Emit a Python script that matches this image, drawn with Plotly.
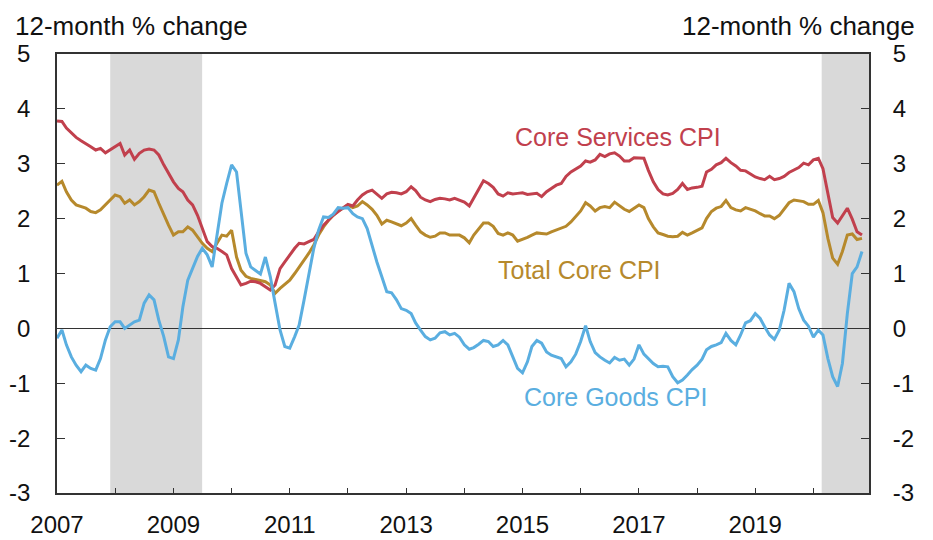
import pandas as pd
import plotly.graph_objects as go

# ---- data (12-month % change, monthly Jan 2007 - Nov 2020) ----
months = pd.date_range("2007-01-01", periods=167, freq="MS")

core_services = [
    3.78, 3.77, 3.65, 3.56, 3.48, 3.42, 3.37, 3.31, 3.25, 3.28,
    3.20, 3.26, 3.32, 3.37, 3.16, 3.25, 3.08, 3.19, 3.25, 3.27,
    3.25, 3.16, 2.98, 2.82, 2.67, 2.55, 2.49, 2.34, 2.25, 2.06,
    1.82, 1.58, 1.49, 1.46, 1.40, 1.34, 1.09, 0.94, 0.79, 0.82,
    0.86, 0.85, 0.82, 0.76, 0.70, 0.79, 1.09, 1.21, 1.34, 1.46,
    1.55, 1.54, 1.58, 1.62, 1.76, 1.88, 1.97, 2.06, 2.13, 2.19,
    2.26, 2.23, 2.34, 2.43, 2.49, 2.52, 2.45, 2.37, 2.45, 2.48,
    2.47, 2.45, 2.49, 2.58, 2.51, 2.39, 2.34, 2.31, 2.35, 2.37,
    2.36, 2.34, 2.37, 2.34, 2.30, 2.23, 2.37, 2.55, 2.69, 2.64,
    2.57, 2.45, 2.41, 2.47, 2.45, 2.46, 2.47, 2.44, 2.45, 2.46,
    2.40, 2.49, 2.55, 2.61, 2.64, 2.77, 2.85, 2.90, 2.96, 3.05,
    3.03, 3.07, 3.17, 3.13, 3.18, 3.20, 3.14, 3.05, 3.05, 3.11,
    3.11, 3.10, 2.88, 2.67, 2.53, 2.45, 2.43, 2.46, 2.53, 2.64,
    2.53, 2.56, 2.57, 2.59, 2.85, 2.90, 2.98, 3.02, 3.10, 3.02,
    2.96, 2.88, 2.87, 2.82, 2.76, 2.73, 2.71, 2.77, 2.71, 2.73,
    2.77, 2.84, 2.88, 2.93, 3.01, 2.98, 3.07, 3.10, 2.91, 2.46,
    2.02, 1.92, 2.06, 2.19, 1.99, 1.76, 1.70,
]

total_core = [
    2.61, 2.68, 2.49, 2.34, 2.25, 2.22, 2.19, 2.13, 2.11, 2.16,
    2.25, 2.35, 2.43, 2.40, 2.28, 2.34, 2.25, 2.31, 2.40, 2.52,
    2.49, 2.28, 2.06, 1.88, 1.70, 1.76, 1.76, 1.85, 1.79, 1.67,
    1.55, 1.46, 1.40, 1.55, 1.70, 1.68, 1.79, 1.30, 1.06, 0.95,
    0.91, 0.89, 0.87, 0.85, 0.79, 0.64, 0.73, 0.81, 0.88, 1.00,
    1.11, 1.24, 1.37, 1.52, 1.70, 1.85, 1.97, 2.06, 2.14, 2.19,
    2.25, 2.20, 2.23, 2.31, 2.25, 2.17, 2.06, 1.90, 1.97, 1.94,
    1.91, 1.87, 1.92, 2.00, 1.88, 1.76, 1.70, 1.66, 1.68, 1.74,
    1.74, 1.70, 1.70, 1.70, 1.65, 1.56, 1.70, 1.82, 1.92, 1.92,
    1.86, 1.73, 1.70, 1.74, 1.70, 1.59, 1.62, 1.66, 1.70, 1.74,
    1.73, 1.72, 1.76, 1.79, 1.82, 1.86, 1.94, 2.03, 2.14, 2.29,
    2.23, 2.14, 2.20, 2.22, 2.20, 2.30, 2.23, 2.17, 2.13, 2.19,
    2.25, 2.20, 2.00, 1.85, 1.74, 1.71, 1.68, 1.67, 1.68, 1.75,
    1.70, 1.74, 1.79, 1.83, 2.00, 2.13, 2.19, 2.22, 2.33, 2.20,
    2.16, 2.14, 2.20, 2.17, 2.14, 2.09, 2.05, 2.05, 2.00, 2.06,
    2.17, 2.29, 2.34, 2.32, 2.31, 2.26, 2.26, 2.33, 2.11, 1.64,
    1.28, 1.17, 1.40, 1.70, 1.72, 1.62, 1.64,
]

core_goods = [
    -0.18, -0.03, -0.30, -0.52, -0.67, -0.79, -0.67, -0.73, -0.76, -0.55,
    -0.21, 0.03, 0.12, 0.12, 0.00, 0.06, 0.12, 0.15, 0.46, 0.61,
    0.52, 0.15, -0.15, -0.52, -0.55, -0.21, 0.39, 0.88, 1.09, 1.31,
    1.46, 1.34, 1.12, 1.73, 2.28, 2.64, 2.98, 2.85, 2.16, 1.37,
    1.12, 1.05, 0.99, 1.30, 0.94, 0.46, -0.03, -0.33, -0.36, -0.15,
    0.06, 0.52, 1.00, 1.46, 1.79, 2.03, 2.02, 2.08, 2.20, 2.19,
    2.20, 2.09, 2.03, 2.00, 1.82, 1.49, 1.21, 0.94, 0.67, 0.65,
    0.52, 0.36, 0.33, 0.27, 0.10, -0.03, -0.15, -0.21, -0.18, -0.08,
    -0.06, -0.12, -0.09, -0.16, -0.30, -0.38, -0.35, -0.29, -0.22, -0.24,
    -0.33, -0.30, -0.22, -0.30, -0.52, -0.73, -0.81, -0.61, -0.33, -0.22,
    -0.27, -0.43, -0.49, -0.52, -0.55, -0.70, -0.61, -0.47, -0.24, 0.05,
    -0.24, -0.44, -0.52, -0.58, -0.63, -0.53, -0.58, -0.56, -0.67, -0.56,
    -0.30, -0.47, -0.56, -0.64, -0.70, -0.69, -0.70, -0.88, -0.99, -0.94,
    -0.85, -0.75, -0.67, -0.56, -0.39, -0.33, -0.30, -0.26, -0.09, -0.22,
    -0.30, -0.12, 0.10, 0.14, 0.27, 0.18, 0.03, -0.12, -0.20, -0.03,
    0.33, 0.82, 0.67, 0.36, 0.15, 0.04, -0.16, -0.03, -0.12, -0.55,
    -0.88, -1.06, -0.64, 0.27, 1.00, 1.12, 1.40,
]

recessions = [("2007-12-01", "2009-06-30"), ("2020-02-22", "2020-12-15")]

year_ticks = [f"{y}-01-01" for y in range(2007, 2021)]
year_labels = [str(y) if y % 2 == 1 else "" for y in range(2007, 2021)]
y_ticks = [-3, -2, -1, 0, 1, 2, 3, 4, 5]
y_labels = ["-3", "-2", "-1", "0", "1", "2", "3", "4", "5"]

# ---- styling ----
RED = "#C1404D"
GOLD = "#B6892C"
BLUE = "#5AAEE0"
AXIS = "#333333"
FONT = "Liberation Sans, Arial, Helvetica, sans-serif"
TXT = "#111111"

fig = go.Figure()
fig.add_trace(go.Scatter(x=months, y=total_core, mode="lines",
                         line=dict(color=GOLD, width=3), name="Total Core CPI"))
fig.add_trace(go.Scatter(x=months, y=core_services, mode="lines",
                         line=dict(color=RED, width=3), name="Core Services CPI"))
fig.add_trace(go.Scatter(x=months, y=core_goods, mode="lines",
                         line=dict(color=BLUE, width=3), name="Core Goods CPI"))
# invisible trace to carry the right-hand tick labels
fig.add_trace(go.Scatter(x=months, y=core_goods, yaxis="y2", mode="lines",
                         line=dict(width=0), opacity=0, hoverinfo="skip",
                         showlegend=False))

for start, end in recessions:
    fig.add_shape(type="rect", xref="x", yref="paper", x0=start, x1=end,
                  y0=0, y1=1, fillcolor="#D9D9D9", line=dict(width=0),
                  layer="below")

annotations = [
    dict(text="Core Services CPI", x="2016-08-20", y=3.49, xref="x", yref="y",
         showarrow=False, font=dict(color=RED, size=25, family=FONT)),
    dict(text="Total Core CPI", x="2015-12-25", y=1.06, xref="x", yref="y",
         showarrow=False, font=dict(color=GOLD, size=25, family=FONT)),
    dict(text="Core Goods CPI", x="2016-08-05", y=-1.25, xref="x", yref="y",
         showarrow=False, font=dict(color=BLUE, size=25, family=FONT)),
    dict(text="12-month % change", x=-0.0542, y=1.063, xref="paper", yref="paper",
         xanchor="left", yanchor="middle", showarrow=False,
         font=dict(color=TXT, size=26, family=FONT)),
    dict(text="12-month % change", x=1.0585, y=1.063, xref="paper", yref="paper",
         xanchor="right", yanchor="middle", showarrow=False,
         font=dict(color=TXT, size=26, family=FONT)),
]

fig.update_layout(
    width=933, height=540,
    margin=dict(l=57, r=64, t=54, b=47),
    paper_bgcolor="white", plot_bgcolor="white",
    showlegend=False,
    font=dict(family=FONT, size=24, color=TXT),
    annotations=annotations,
    xaxis=dict(
        type="date", range=["2007-01-01", "2020-12-15"],
        tickmode="array", tickvals=year_ticks, ticktext=year_labels,
        ticks="inside", ticklen=5, tickwidth=1.2, tickcolor=AXIS,
        showline=True, linecolor=AXIS, linewidth=1.5, mirror=True,
        showgrid=False, zeroline=False, ticklabelstandoff=9, automargin=False,
        tickfont=dict(size=24, family=FONT, color=TXT),
    ),
    yaxis=dict(
        range=[-3, 5], tickmode="array", tickvals=y_ticks, ticktext=y_labels,
        ticks="inside", ticklen=8, tickwidth=1.2, tickcolor=AXIS,
        showline=True, linecolor=AXIS, linewidth=1.5, mirror="ticks",
        showgrid=False, ticklabelstandoff=20, automargin=False,
        zeroline=True, zerolinecolor=AXIS, zerolinewidth=1,
        tickfont=dict(size=24, family=FONT, color=TXT),
    ),
    yaxis2=dict(
        range=[-3, 5], overlaying="y", side="right", anchor="x",
        tickmode="array", tickvals=y_ticks, ticktext=y_labels,
        ticks="outside", ticklen=18, tickcolor="rgba(0,0,0,0)",
        showline=False, showgrid=False, zeroline=False, automargin=False,
        tickfont=dict(size=24, family=FONT, color=TXT),
    ),
)

fig.write_html("out.html", config={"displayModeBar": False},
               post_script="document.body.style.margin='0px';")
